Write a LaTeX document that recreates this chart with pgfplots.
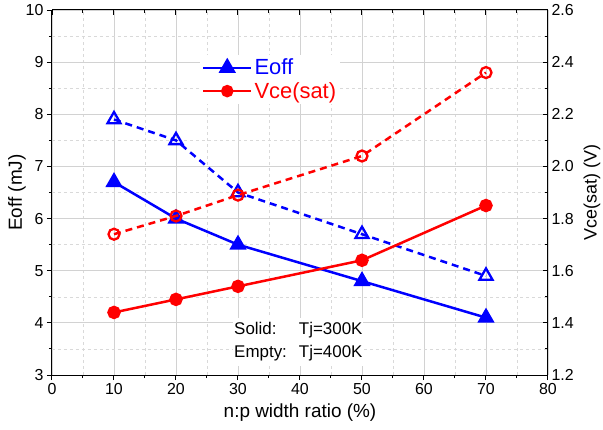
\documentclass[border=0pt]{standalone}
\usepackage{fontspec}
\setmainfont{Liberation Sans}
\usepackage{pgfplots}
\pgfplotsset{compat=1.18}
\begin{document}
\begin{tikzpicture}
\path[use as bounding box] (-52bp,-55bp) rectangle (551bp,375bp);
\begin{axis}[
  at={(0,0)}, anchor=south west,
  scale only axis, width=496bp, height=365bp,
  xmin=0, xmax=80, ymin=3, ymax=10,
  axis x line*=bottom, axis y line*=left,
  xtick={0,10,...,80}, ytick={3,4,...,10},
  minor x tick num=1, minor y tick num=1,
  tick align=outside,
  major tick length=5bp, minor tick length=3bp,
  grid=both,
  major grid style={gray!35, line width=0.8bp},
  minor grid style={gray!30, line width=0.5bp, dash pattern=on 3bp off 3bp},
  axis line style={line width=1bp, black},
  tick style={line width=1bp, black},
  /pgf/number format/assume math mode=true,
  ticklabel style={font=\fontsize{16}{18}\selectfont},
  xlabel={n:p width ratio (\%)},
  ylabel={Eoff (mJ)},
  every axis x label/.style={at={(axis description cs:0.5,0)}, yshift=-38bp, anchor=center, font=\fontsize{19}{21}\selectfont},
  every axis y label/.style={at={(axis description cs:0,0.5)}, xshift=-35bp, anchor=center, rotate=90, font=\fontsize{19}{21}\selectfont},
  legend style={at={(0.298,0.877)}, anchor=north west, draw=none, fill=white,
    font=\fontsize{22}{24}\selectfont, row sep=2bp, inner sep=2bp},
  legend cell align=left,
  legend image code/.code={\draw[mark repeat=2,mark phase=2,#1] plot coordinates {(0bp,0bp) (24bp,0bp) (48bp,0bp)};},
]
\addplot[blue, line width=2.5bp, mark=triangle*, mark size=7.5bp, mark options={solid}]
  coordinates {(10,6.7) (20,6.0) (30,5.5) (50,4.8) (70,4.1)};
\addlegendentry{\textcolor{blue}{Eoff}}
\addlegendimage{red, line width=2.5bp, mark=*, mark size=5bp}
\addlegendentry{\textcolor{red}{Vce(sat)}}
\addplot[blue, line width=2.5bp, dash pattern=on 7bp off 5bp, mark=triangle, mark size=7.5bp, mark options={solid, line width=2.3bp, fill=white}]
  coordinates {(10,7.9) (20,7.5) (30,6.5) (50,5.7) (70,4.9)};
\node[anchor=west, fill=white, inner sep=1bp, font=\fontsize{17}{23}\selectfont, align=left] at (axis cs:29.2,3.64)
  {\begin{tabular}{@{}l@{\hspace{12bp}}l@{}}Solid: & Tj=300K\\[0bp] Empty: & Tj=400K\end{tabular}};
\end{axis}
\begin{axis}[
  at={(0,0)}, anchor=south west,
  scale only axis, width=496bp, height=365bp,
  xmin=0, xmax=80, ymin=1.2, ymax=2.6,
  axis x line*=top, axis y line*=right,
  xtick={0,10,...,80}, xticklabels={},
  ytick={1.2,1.4,...,2.6},
  minor x tick num=1, minor y tick num=1,
  tick align=inside,
  major tick length=5bp, minor tick length=3bp,
  axis line style={line width=1bp, black},
  tick style={line width=1bp, black},
  /pgf/number format/assume math mode=true,
  ticklabel style={font=\fontsize{16}{18}\selectfont},
  yticklabel style={/pgf/number format/.cd, fixed, fixed zerofill, precision=1},
  ylabel={Vce(sat) (V)},
  every axis y label/.style={at={(axis description cs:1,0.5)}, xshift=44bp, anchor=center, rotate=90, font=\fontsize{18}{20}\selectfont},
]
\addplot[red, line width=2.5bp, mark=*, mark size=5.5bp, mark options={solid}]
  coordinates {(10,1.44) (20,1.49) (30,1.54) (50,1.64) (70,1.85)};
\addplot[red, line width=2.5bp, dash pattern=on 7bp off 5bp, mark=o, mark size=5.5bp, mark options={solid, line width=2.3bp, fill=white}]
  coordinates {(10,1.74) (20,1.81) (30,1.89) (50,2.04) (70,2.36)};
\end{axis}
\end{tikzpicture}
\end{document}
